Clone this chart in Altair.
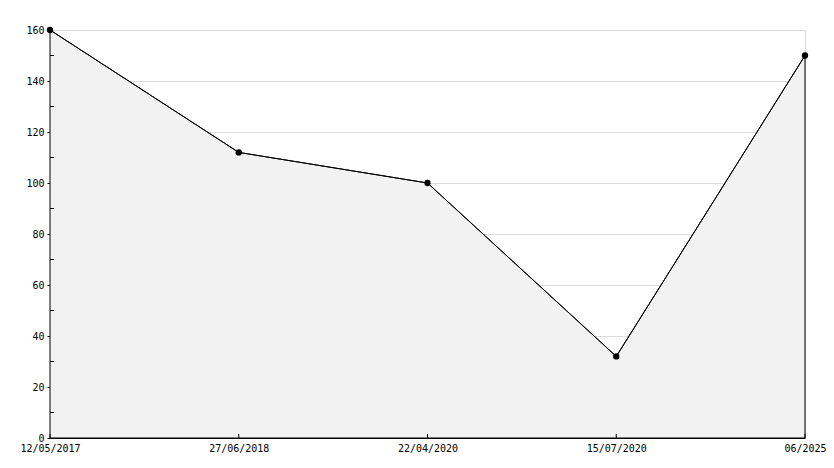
import altair as alt
import pandas as pd

dates = ["12/05/2017", "27/06/2018", "22/04/2020", "15/07/2020", "06/2025"]
values = [160, 112, 100, 32, 150]
major_ticks = [0, 20, 40, 60, 80, 100, 120, 140, 160]
minor_ticks = [10, 30, 50, 70, 90, 110, 130, 150]

W, H = 755, 408
FONT = "DejaVu Sans Mono"

df = pd.DataFrame({"date": dates, "value": values})
minor_df = pd.DataFrame({"v": minor_ticks})

xscale = alt.Scale(type="point", padding=0, domain=dates)
yscale = alt.Scale(domain=[0, 160], nice=False)

x_enc = alt.X("date:N", scale=xscale, sort=dates,
              axis=alt.Axis(title=None, labelAngle=0, ticks=False, domain=True,
                            domainColor="black", labelFont=FONT, labelFontSize=10,
                            labelColor="black", labelPadding=5, labelFlush=False,
                            grid=False))
y_enc = alt.Y("value:Q", scale=yscale,
              axis=alt.Axis(title=None, values=major_ticks, tickSize=3, tickColor="black",
                            domainColor="black", labelFont=FONT, labelFontSize=10,
                            labelColor="black", labelPadding=3, grid=True,
                            gridColor="#dddddd", labelFlush=False))

area = alt.Chart(df).mark_area(color="#f2f2f2", stroke="black", strokeWidth=1,
                               interpolate="linear").encode(x=x_enc, y=y_enc)
line = alt.Chart(df).mark_line(color="black", strokeWidth=1).encode(
    x=alt.X("date:N", scale=xscale, sort=dates),
    y=alt.Y("value:Q", scale=yscale))
points = alt.Chart(df).mark_point(shape="circle", filled=True, color="black",
                                  size=40, opacity=1).encode(
    x=alt.X("date:N", scale=xscale, sort=dates),
    y=alt.Y("value:Q", scale=yscale))
xticks = alt.Chart(df).mark_rule(color="black", strokeWidth=1).encode(
    x=alt.X("date:N", scale=xscale, sort=dates),
    y=alt.value(H - 4), y2=alt.value(H))
yminor = alt.Chart(minor_df).mark_rule(color="black", strokeWidth=1).encode(
    y=alt.Y("v:Q", scale=yscale),
    x=alt.value(0), x2=alt.value(4))

chart = alt.layer(area, line, xticks, yminor, points).properties(
    width=W, height=H,
    autosize=alt.AutoSizeParams(type="none"),
    padding={"left": 42, "top": 22, "right": 21, "bottom": 22},
).configure_view(stroke=None).configure(background="white")

chart.save("out.html", embed_options={"renderer": "svg", "actions": False})
